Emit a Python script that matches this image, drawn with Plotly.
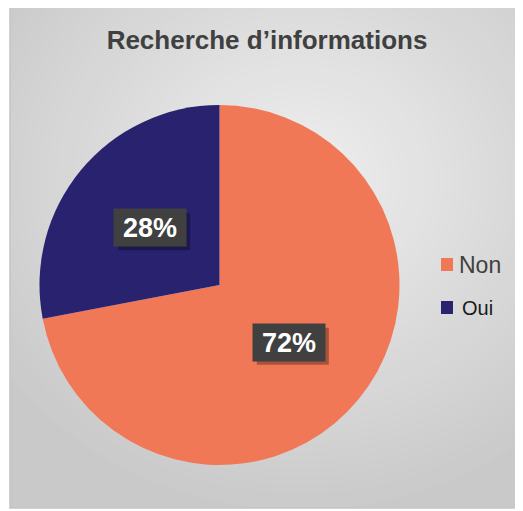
import math
import plotly.graph_objects as go

# données
etiquettes = ['Non', 'Oui']
valeurs = [72, 28]
couleurs = ['#F07857', '#29236F']
titre = 'Recherche d’informations'

W, H = 523, 511
D = 8   # marge du <body> de la page
cx, cy, r = 219.5, 285, 180   # centre et rayon du camembert (px, dans la page)

def px(x):
    return (x - D) / W

def py(y):
    return 1 - (y - D) / H

fig = go.Figure()
fig.add_trace(go.Pie(
    labels=etiquettes,
    values=valeurs,
    sort=False,
    direction='clockwise',
    rotation=0,
    marker=dict(colors=couleurs, line=dict(width=0)),
    textinfo='none',
    hoverinfo='label+percent',
    showlegend=False,
    domain=dict(x=[px(cx - r), px(cx + r)], y=[py(cy + r), py(cy - r)]),
))

# fond dégradé (rectangle + ellipses concentriques)
formes = [dict(type='rect', xref='paper', yref='paper', x0=px(10), x1=px(518), y0=py(508), y1=1,
               fillcolor='#c9c9c9', line=dict(width=0), layer='below')]
nb = 40
for i in range(nb):
    f = 1 - i / nb
    g = int(0xcb + (0xef - 0xcb) * i / (nb - 1))
    ex, ey = 300, 180
    rx, ry = 360 * f, 330 * f
    formes.append(dict(type='circle', xref='paper', yref='paper',
                       x0=px(ex - rx), x1=px(ex + rx), y0=py(ey + ry), y1=py(ey - ry),
                       fillcolor='rgb(%d,%d,%d)' % (g, g, g), line=dict(width=0), layer='below'))
formes.append(dict(type='rect', xref='paper', yref='paper', x0=0, x1=1, y0=0, y1=py(508),
                   fillcolor='white', line=dict(width=0), layer='below'))
formes.append(dict(type='rect', xref='paper', yref='paper', x0=0, x1=px(10), y0=0, y1=1,
                   fillcolor='white', line=dict(width=0), layer='below'))
formes.append(dict(type='rect', xref='paper', yref='paper', x0=px(10), x1=px(518), y0=py(508), y1=1.01,
                   fillcolor='rgba(0,0,0,0)', line=dict(width=1.5, color='#c4c4c4')))

annots = []
# étiquettes de pourcentage placées à mi-angle de chaque part
bw, bh = 72, 37
total = sum(valeurs)
depart = 0
for lab, v in zip(etiquettes, valeurs):
    milieu = (depart + v / 2) / total * 2 * math.pi
    depart += v
    lx = cx + 0.5 * r * math.sin(milieu)
    ly = cy - 0.5 * r * math.cos(milieu)
    # ombre portée de la boîte
    formes.append(dict(type='rect', xref='paper', yref='paper',
                       x0=px(lx - bw / 2 + 4), x1=px(lx + bw / 2 + 4),
                       y0=py(ly + bh / 2 + 4), y1=py(ly - bh / 2 + 4),
                       fillcolor='rgba(0,0,0,0.3)', line=dict(width=0)))
    annots.append(dict(x=px(lx), y=py(ly), xref='paper', yref='paper', showarrow=False,
                       xanchor='center', yanchor='middle', width=bw, height=bh,
                       text='<b>%d%%</b>' % round(100 * v / total),
                       font=dict(size=27, color='white', family='Liberation Sans'),
                       bgcolor='#404040', borderpad=0))

# légende
tailles = [23, 20]
for i, (lab, c) in enumerate(zip(etiquettes, couleurs)):
    ly = 264.5 + i * 43
    formes.append(dict(type='rect', xref='paper', yref='paper',
                       x0=px(441), x1=px(453), y0=py(ly + 6.5), y1=py(ly - 6.5),
                       fillcolor=c, line=dict(width=0)))
    annots.append(dict(x=px(457 + 3 * i), y=py(ly), xref='paper', yref='paper', showarrow=False,
                       xanchor='left', yanchor='middle', text=lab,
                       font=dict(size=tailles[i], color='#404040' if i == 0 else '#1a1a1a',
                                 family='Liberation Sans')))

fig.update_layout(
    width=W, height=H,
    margin=dict(l=0, r=0, t=0, b=0),
    paper_bgcolor='white',
    title=dict(text='<b>' + titre + '</b>', x=px(267), xanchor='center', y=py(40), yanchor='middle',
               font=dict(size=26, color='#404040', family='Liberation Sans')),
    shapes=formes,
    annotations=annots,
)

fig.write_html('out.html')
